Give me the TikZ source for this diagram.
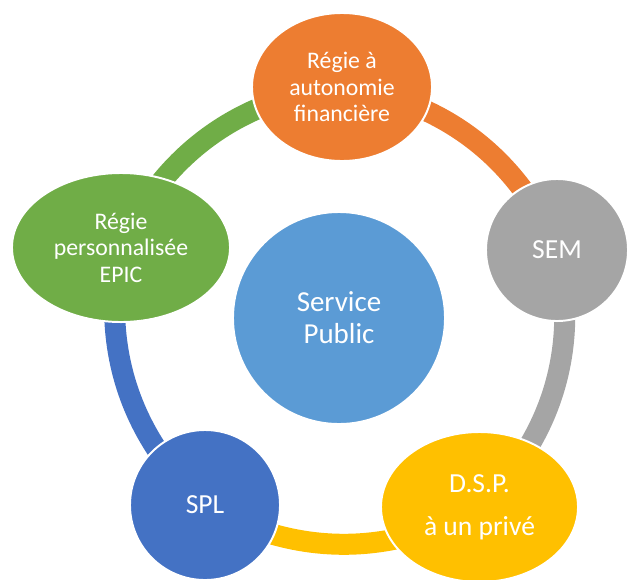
\documentclass[tikz,border=0pt]{standalone}
\usepackage{fontspec}
\setmainfont{Carlito}
\usetikzlibrary{shapes.geometric}
\usetikzlibrary{backgrounds}
\definecolor{office-blue}{RGB}{91, 155, 213}
\definecolor{office-orange}{RGB}{237, 125, 49}
\definecolor{office-gray}{RGB}{165, 165, 165}
\definecolor{office-yellow}{RGB}{255, 192, 0}
\definecolor{office-darkblue}{RGB}{68, 114, 196}
\definecolor{office-green}{RGB}{112, 173, 71}

\begin{document}
\begin{tikzpicture}[x=0.025cm, y=-0.025cm,
        bubble/.style={ellipse, draw=white, line width=1.4pt, text=white, align=center, inner sep=0pt},
        small-text/.style={font=\fontsize{16.9}{18.85}\selectfont},
        big-text/.style={font=\fontsize{19.6}{21.5}\selectfont},
        link/.style={line width=0.525cm, bend left=30, looseness=0.95}]
                \useasboundingbox (0, 0) rectangle (628, 579);
                \node[bubble, circle, fill=office-blue, minimum size=5.3cm, font=\fontsize{20.6}{22.8}\selectfont] (public) at (339, 318) {Service\\Public};
                \node[bubble, fill=office-orange, minimum width=4.5cm, minimum height=3.7cm, small-text] (regie) at (342, 87) {Régie à\\autonomie\\financière};
                \node[bubble, circle, fill=office-gray, minimum size=3.55cm, big-text] (sem) at (557, 250) {SEM};
                \node[bubble, fill=office-yellow, minimum width=4.925cm, minimum height=3.75cm, big-text] (dsp) at (479.5, 507) {D.S.P.\\[9pt]à un privé};
                \node[bubble, circle, fill=office-darkblue, minimum size=3.75cm, big-text] (spl) at (205, 505) {SPL};
                \node[bubble, fill=office-green, minimum width=5.45cm, minimum height=3.725cm, small-text] (epic) at (121, 247.5) {Régie\\personnalisée\\EPIC};
                \begin{scope}[on background layer]
                    \draw[link, office-orange] (regie.center) to (sem.center);
                    \draw[link, office-gray] (sem.center) to (dsp.center);
                    \draw[link, office-yellow] (dsp.center) to (spl.center);
                    \draw[link, office-darkblue] (spl.center) to (epic.center);
                    \draw[link, office-green] (epic.center) to (regie.center);
                \end{scope}
            \end{tikzpicture}
\end{document}
